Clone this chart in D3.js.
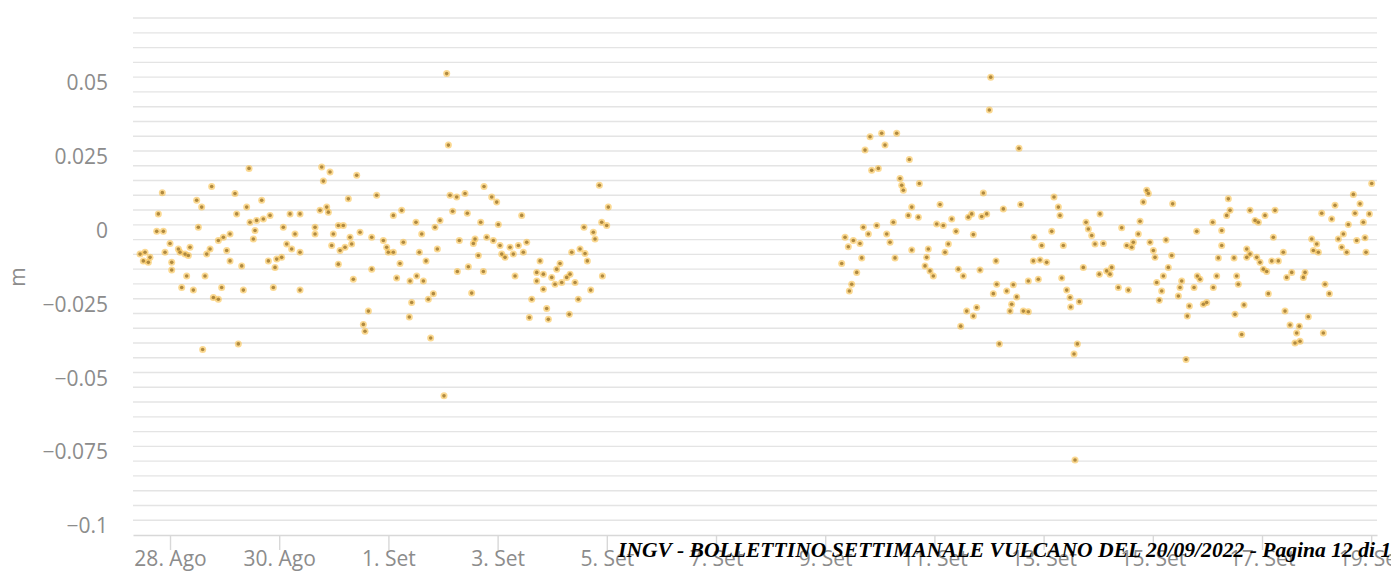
<!DOCTYPE html>
<html>
<head>
<meta charset="utf-8">
<script src="https://cdn.jsdelivr.net/npm/d3@7/dist/d3.min.js"></script>
<style>
  html, body { margin: 0; padding: 0; background: #fff; }
  svg { display: block; }
</style>
</head>
<body>
<svg id="chart" width="1391" height="574"></svg>
<script>
// Day offsets are measured from 28 Aug 2022 00:00 UTC; values are in metres.
const originDay = Date.UTC(2022, 7, 28);

// 27 Aug – 31 Aug
const spanAugust = [
  [-0.549,-0.0099],[-0.458,-0.0093],[-0.366,-0.0110],[-0.489,-0.0122],[-0.397,-0.0127],
  [-0.214,0.0037],[-0.141,0.0109],[-0.244,-0.0022],[-0.122,-0.0022],[0.000,-0.0063],
  [-0.092,-0.0093],[0.031,-0.0127],[0.031,-0.0153],[0.183,-0.0093],[0.153,-0.0082],
  [0.275,-0.0099],[0.366,-0.0076],[0.336,-0.0104],[0.305,-0.0173],[0.214,-0.0212],
  [0.427,-0.0221],[0.519,-0.0008],[0.488,0.0083],[0.580,0.0060],[0.763,0.0130],
  [0.641,-0.0173],[0.672,-0.0099],[0.733,-0.0082],[0.794,-0.0246],[0.885,-0.0252],
  [0.946,-0.0212],[0.885,-0.0053],[0.977,-0.0042],[1.099,-0.0031],[1.038,-0.0087],
  [1.099,-0.0122],[1.313,-0.0139],[1.343,-0.0221],[1.190,0.0106],[1.221,0.0037],
  [1.404,0.0060],[1.447,0.0191],[1.679,0.0083],[1.465,0.0009],[1.587,0.0015],
  [1.709,0.0020],[1.832,0.0032],[1.557,-0.0019],[1.526,-0.0048],[1.801,-0.0122],
  [1.954,-0.0116],[1.923,-0.0144],[2.045,-0.0110],[1.892,-0.0212],[2.075,-0.0008],
  [2.198,0.0037],[2.381,0.0037],[2.289,-0.0031],[2.137,-0.0065],[2.228,-0.0082],
  [2.381,-0.0093],[2.381,-0.0221],[2.656,-0.0008],[2.656,-0.0031],[2.778,0.0196],
  [2.930,0.0179],[2.808,0.0148],[2.747,0.0049],[2.870,0.0060],[2.900,0.0043],
  [2.991,-0.0031],[2.961,-0.0070],[3.083,-0.0002],[3.174,-0.0002],[3.114,-0.0087],
  [3.205,-0.0076],[3.297,-0.0042],[3.327,-0.0065],[3.083,-0.0133],[3.357,-0.0184],
  [3.419,0.0168],[3.266,0.0088],[3.480,-0.0025],[3.694,-0.0042],[3.785,0.0100],
  [3.694,-0.0150],[3.907,-0.0053],[3.968,-0.0076],[3.998,-0.0093],[3.633,-0.0292],
  [3.541,-0.0337],[3.571,-0.0360],[0.598,-0.0422],[1.251,-0.0403]
];

// 1 Sep – 5 Sep
const spanEarlySeptember = [
  [5.067,0.0512],[5.098,0.0270],[4.090,-0.0093],[4.273,-0.0059],[4.090,0.0032],
  [4.243,0.0049],[4.212,-0.0131],[4.151,-0.0180],[4.505,0.0009],[4.610,-0.0031],
  [4.566,-0.0093],[4.689,-0.0122],[4.396,-0.0190],[4.518,-0.0173],[4.640,-0.0190],
  [4.426,-0.0263],[4.383,-0.0312],[4.731,-0.0252],[4.823,-0.0233],[4.774,-0.0383],
  [4.853,-0.0008],[4.945,0.0015],[4.896,-0.0082],[5.128,0.0100],[5.251,0.0094],
  [5.403,0.0106],[5.177,0.0046],[5.445,0.0039],[5.299,-0.0053],[5.262,-0.0158],
  [5.464,-0.0142],[5.525,-0.0231],[5.586,-0.0048],[5.556,-0.0063],[5.647,-0.0104],
  [5.690,0.0009],[5.739,-0.0158],[5.751,0.0130],[5.892,0.0094],[5.983,0.0077],
  [6.013,0.0001],[5.800,-0.0042],[5.921,-0.0053],[6.044,-0.0070],[6.136,-0.0110],
  [6.227,-0.0076],[6.288,-0.0099],[6.380,-0.0070],[6.471,-0.0093],[6.533,-0.0059],
  [6.319,-0.0173],[6.441,0.0032],[6.075,-0.0099],[6.777,-0.0122],[6.716,-0.0161],
  [6.838,-0.0167],[6.716,-0.0190],[6.838,-0.0218],[6.991,-0.0178],[7.082,-0.0150],
  [7.143,-0.0131],[7.051,-0.0201],[7.174,-0.0195],[7.265,-0.0178],[7.326,-0.0167],
  [7.418,-0.0195],[6.625,-0.0252],[6.899,-0.0283],[6.581,-0.0314],[6.929,-0.0320],
  [7.313,-0.0303],[7.478,-0.0252],[7.705,-0.0221],[7.357,-0.0093],[7.509,-0.0082],
  [7.601,-0.0097],[7.643,-0.0122],[7.582,-0.0008],[7.753,-0.0025],[7.784,-0.0048],
  [7.906,0.0009],[7.998,-0.0002],[8.027,0.0060],[7.863,0.0134],[7.919,-0.0173],
  [5.018,-0.0579]
];

// 9 Sep – 14 Sep
const spanMidSeptember = [
  [15.031,0.0500],[15.006,0.0389],[15.549,0.0259],[12.821,0.0298],[13.034,0.0310],
  [13.309,0.0310],[13.095,0.0270],[12.729,0.0253],[13.541,0.0221],[12.851,0.0185],
  [12.973,0.0191],[13.370,0.0157],[13.401,0.0134],[13.431,0.0117],[13.724,0.0140],
  [14.896,0.0108],[14.103,0.0069],[13.585,0.0060],[13.522,0.0032],[13.706,0.0026],
  [13.248,0.0009],[12.943,-0.0002],[12.698,-0.0008],[12.790,-0.0031],[12.363,-0.0042],
  [12.515,-0.0053],[12.637,-0.0063],[12.423,-0.0074],[13.126,-0.0031],[13.187,-0.0059],
  [12.669,-0.0112],[12.302,-0.0131],[12.577,-0.0161],[12.485,-0.0201],[12.442,-0.0224],
  [13.278,-0.0112],[13.585,-0.0085],[14.042,0.0003],[14.163,-0.0002],[14.317,0.0020],
  [14.396,-0.0022],[14.621,0.0026],[14.683,0.0037],[14.866,0.0028],[14.958,0.0037],
  [15.262,0.0054],[15.580,0.0069],[14.713,-0.0033],[13.888,-0.0082],[13.858,-0.0110],
  [13.828,-0.0139],[13.919,-0.0156],[13.980,-0.0173],[14.194,-0.0093],[14.255,-0.0065],
  [14.438,-0.0150],[14.529,-0.0173],[14.835,-0.0153],[15.128,-0.0122],[15.141,-0.0201],
  [15.079,-0.0233],[15.324,-0.0224],[15.445,-0.0203],[15.507,-0.0244],[15.415,-0.0269],
  [15.385,-0.0292],[15.628,-0.0292],[15.720,-0.0294],[15.720,-0.0190],[15.903,-0.0184],
  [14.591,-0.0292],[14.774,-0.0280],[14.713,-0.0309],[14.482,-0.0343],[15.189,-0.0403]
];

// 15 Sep – 19 Sep
const spanLateSeptember = [
  [15.824,-0.0042],[15.965,-0.0070],[15.811,-0.0122],[15.934,-0.0119],[16.056,-0.0127],
  [16.148,-0.0022],[16.190,0.0094],[16.270,0.0060],[16.300,0.0032],[16.361,-0.0070],
  [16.332,-0.0180],[16.423,-0.0221],[16.484,-0.0246],[16.496,-0.0278],[16.654,-0.0260],
  [16.618,-0.0403],[16.557,-0.0437],[16.575,-0.0796],[16.727,-0.0144],[16.777,0.0009],
  [16.819,-0.0014],[16.881,-0.0036],[16.941,-0.0065],[17.033,0.0037],[17.094,-0.0063],
  [17.020,-0.0167],[17.155,-0.0156],[17.888,0.0117],[17.918,0.0106],[17.826,0.0077],
  [18.364,0.0071],[17.430,-0.0010],[17.766,0.0012],[17.734,-0.0031],[17.522,-0.0070],
  [17.614,-0.0076],[17.643,-0.0059],[17.949,-0.0059],[18.010,-0.0087],[18.040,-0.0110],
  [18.242,-0.0051],[18.346,-0.0104],[18.284,-0.0144],[18.193,-0.0173],[18.071,-0.0195],
  [18.163,-0.0224],[18.119,-0.0255],[17.369,-0.0212],[17.552,-0.0221],[17.216,-0.0167],
  [17.247,-0.0144],[18.529,-0.0190],[18.498,-0.0212],[18.468,-0.0241],[18.669,-0.0275],
  [18.632,-0.0309],[18.608,-0.0456],[18.804,-0.0022],[18.815,-0.0173],[18.864,-0.0184],
  [18.755,-0.0212],[18.925,-0.0269],[18.987,-0.0263],[19.108,-0.0212],[19.170,-0.0173],
  [19.097,0.0009],[19.262,-0.0019],[19.262,-0.0070],[19.200,-0.0112],[19.383,0.0088],
  [19.414,0.0049],[19.353,0.0032],[19.487,-0.0112],[19.536,-0.0173],[19.566,-0.0201],
  [19.505,-0.0303],[19.670,-0.0271],[19.628,-0.0371],[19.780,0.0049],[19.872,0.0015],
  [19.933,0.0009],[20.055,0.0032],[20.238,0.0049],[20.207,-0.0042],[19.720,-0.0082],
  [19.780,-0.0099],[19.720,-0.0110],[19.903,-0.0110],[19.963,-0.0127],[20.024,-0.0150],
  [20.086,-0.0158],[20.178,-0.0122],[20.299,-0.0122],[20.390,-0.0093],[20.116,-0.0233],
  [20.452,-0.0178],[20.544,-0.0161],[20.757,-0.0178],[20.788,-0.0161],[20.421,-0.0292],
  [20.513,-0.0339],[20.683,-0.0343],[20.635,-0.0366],[20.604,-0.0400],[20.696,-0.0394],
  [20.848,-0.0311],[21.123,-0.0366],[21.154,-0.0201],[21.233,-0.0233],[20.910,-0.0048],
  [21.002,-0.0065],[20.940,-0.0087],[21.032,-0.0093],[21.093,0.0039],[21.276,0.0020],
  [21.337,0.0066],[21.398,-0.0048],[21.490,-0.0031],[21.459,-0.0076],[21.551,-0.0093],
  [21.581,0.0001],[21.673,0.0103],[21.795,0.0071],[21.703,0.0039],[21.856,0.0009],
  [21.734,-0.0053],[21.886,-0.0044],[21.966,0.0037],[21.905,-0.0093],[22.009,0.0140]
];

// Axis ticks and labels
const yTickValues = [-0.1, -0.075, -0.05, -0.025, 0, 0.025, 0.05];
const yTickLabels = ["\u22120.1", "\u22120.075", "\u22120.05", "\u22120.025", "0", "0.025", "0.05"];
const xTickDates = ["2022-08-28", "2022-08-30", "2022-09-01", "2022-09-03", "2022-09-05",
                    "2022-09-07", "2022-09-09", "2022-09-11", "2022-09-13", "2022-09-15",
                    "2022-09-17", "2022-09-19"];
const xTickLabels = ["28. Ago", "30. Ago", "1. Set", "3. Set", "5. Set", "7. Set",
                     "9. Set", "11. Set", "13. Set", "15. Set", "17. Set", "19. Set"];
const yTitle = "m";
const footerText = "INGV - BOLLETTINO SETTIMANALE VULCANO DEL 20/09/2022 - Pagina 12 di 13";

const toDate = d => new Date(originDay + d * 864e5);

const plot = { left: 133, right: 1377, top: 16, bottom: 535 };

const x = d3.scaleUtc()
  .domain([toDate(-0.678), toDate(22.106)])
  .range([plot.left, plot.right]);

const y = d3.scaleLinear()
  .domain([-0.105, 0.0707])
  .range([plot.bottom, plot.top]);

const svg = d3.select("#chart");
svg.append("rect").attr("width", 1391).attr("height", 574).attr("fill", "#fff");

// Horizontal grid every 0.005 m
const gridValues = d3.range(-20, 15).map(i => +(i * 0.005).toFixed(3));
svg.append("g")
  .selectAll("line")
  .data(gridValues)
  .join("line")
  .attr("x1", plot.left)
  .attr("x2", plot.right)
  .attr("y1", d => y(d))
  .attr("y2", d => y(d))
  .attr("stroke", "#e4e4e4")
  .attr("stroke-width", 1.4);

const labelFont = "'Open Sans', 'DejaVu Sans', sans-serif";

// Y axis labels (no axis line), right-aligned left of the plot
const yAxis = d3.axisLeft(y)
  .tickValues(yTickValues)
  .tickFormat((d, i) => yTickLabels[i])
  .tickSize(0)
  .tickPadding(0);
const yAxisG = svg.append("g")
  .attr("transform", `translate(108,0)`)
  .call(yAxis);
yAxisG.select(".domain").remove();
yAxisG.selectAll("text")
  .attr("font-family", labelFont)
  .attr("font-size", 21)
  .attr("fill", "#8c8c8c")
  .attr("dy", null)
  .attr("dominant-baseline", "auto")
  .attr("transform", "translate(0,12.5)");

svg.append("text")
  .attr("transform", "translate(25,277) rotate(-90)")
  .attr("text-anchor", "middle")
  .attr("font-family", labelFont)
  .attr("font-size", 21)
  .attr("fill", "#8c8c8c")
  .text(yTitle);

// X axis
const xTicks = xTickDates.map(s => new Date(s + "T00:00:00Z"));
const xAxis = d3.axisBottom(x)
  .tickValues(xTicks)
  .tickFormat((d, i) => xTickLabels[i])
  .tickSizeInner(15)
  .tickSizeOuter(0)
  .tickPadding(0);
const xAxisG = svg.append("g")
  .attr("transform", `translate(0,${plot.bottom})`)
  .call(xAxis);
xAxisG.select(".domain").attr("stroke", "#d8d8d8").attr("stroke-width", 1.6);
xAxisG.selectAll(".tick line").attr("stroke", "#d8d8d8").attr("stroke-width", 1.4);
xAxisG.selectAll("text")
  .attr("font-family", labelFont)
  .attr("font-size", 21)
  .attr("fill", "#8c8c8c")
  .attr("dy", null)
  .attr("y", 31);

// Scatter points
const allPoints = [spanAugust, spanEarlySeptember, spanMidSeptember, spanLateSeptember]
  .flatMap(span => span.map(([d, v]) => ({ t: toDate(d), v })));

const pts = svg.append("g");
pts.selectAll("circle.halo")
  .data(allPoints)
  .join("circle")
  .attr("class", "halo")
  .attr("cx", p => x(p.t))
  .attr("cy", p => y(p.v))
  .attr("r", 3.5)
  .attr("fill", "#f9bf4a")
  .attr("opacity", 0.6);
pts.selectAll("circle.core")
  .data(allPoints)
  .join("circle")
  .attr("class", "core")
  .attr("cx", p => x(p.t))
  .attr("cy", p => y(p.v))
  .attr("r", 1.8)
  .attr("fill", "#b08a40");

// Page footer printed over the chart
svg.append("text")
  .attr("x", 618)
  .attr("y", 557)
  .attr("font-family", "'Liberation Serif', 'Times New Roman', serif")
  .attr("font-weight", "bold")
  .attr("font-style", "italic")
  .attr("font-size", 21.6)
  .attr("fill", "#000")
  .text(footerText);
</script>
</body>
</html>
